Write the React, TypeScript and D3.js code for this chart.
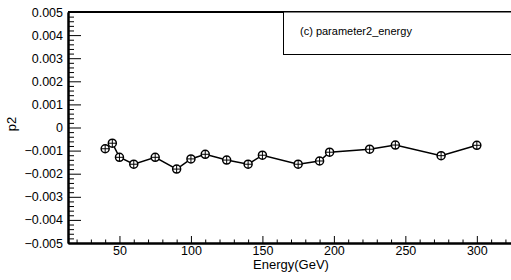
import * as d3 from 'd3';
import React from 'react';

// energy points (GeV) and fitted p2 values
const energy: number[] = [40, 45, 50, 60, 75, 90, 100, 110, 125, 140, 150, 175, 190, 197, 225, 243, 275, 300];
const p2: number[] = [
    -0.00092, -0.00068, -0.00129, -0.00159, -0.00129, -0.0018, -0.00136, -0.00116, -0.00141, -0.00159, -0.0012,
    -0.00159, -0.00145, -0.00107, -0.00094, -0.00076, -0.00122, -0.00077,
];
const xMajor: number[] = [50, 100, 150, 200, 250, 300];
const yMajor: number[] = [-0.005, -0.004, -0.003, -0.002, -0.001, 0, 0.001, 0.002, 0.003, 0.004, 0.005];
const legendText = '(c) parameter2_energy';

const App = (): React.ReactElement => {
    const width = 511;
    const height = 280;
    const left = 68;
    const right = 514;
    const top = 12;
    const bottom = 243;

    const chartRef = React.useRef<SVGSVGElement>(null);

    React.useEffect(() => {
        const font = 'Liberation Sans, Arial, Helvetica, sans-serif';
        const xScale = d3.scaleLinear().domain([14, 326]).range([left, right]);
        const yScale = d3.scaleLinear().domain([-0.005, 0.005]).range([bottom, top]);

        const svg = d3.select(chartRef.current).attr('width', width).attr('height', height);
        svg.selectAll('*').remove();

        svg.append('rect').attr('width', width).attr('height', height).attr('fill', '#fff');

        // top edge of the frame (right edge falls outside the canvas)
        svg.append('line')
            .attr('x1', left)
            .attr('x2', right)
            .attr('y1', top)
            .attr('y2', top)
            .attr('stroke', '#000')
            .attr('stroke-width', 2);

        // x axis: minor ticks then major ticks with labels
        const xMinor = d3.range(20, 330, 10).filter((v) => v % 50 !== 0);
        svg.append('g')
            .attr('transform', 'translate(0,' + bottom + ')')
            .call(d3.axisBottom(xScale).tickValues(xMinor).tickSize(-3.5).tickSizeOuter(0).tickFormat(() => ''));
        svg.append('g')
            .attr('transform', 'translate(0,' + bottom + ')')
            .call(
                d3
                    .axisBottom(xScale)
                    .tickValues(xMajor)
                    .tickSize(-7)
                    .tickSizeOuter(0)
                    .tickPadding(3)
                    .tickFormat(d3.format('d')),
            );

        // y axis
        const yMinor = d3.range(-25, 26).filter((i) => i % 5 !== 0).map((i) => i * 0.0002);
        svg.append('g')
            .attr('transform', 'translate(' + left + ',0)')
            .call(d3.axisLeft(yScale).tickValues(yMinor).tickSize(-6).tickSizeOuter(0).tickFormat(() => ''));
        svg.append('g')
            .attr('transform', 'translate(' + left + ',0)')
            .call(
                d3
                    .axisLeft(yScale)
                    .tickValues(yMajor)
                    .tickSize(-13)
                    .tickSizeOuter(0)
                    .tickPadding(5)
                    .tickFormat((v) => (Math.abs(+v) < 1e-9 ? '0' : d3.format('.3f')(+v))),
            );

        svg.selectAll('.domain').attr('stroke-width', 2);
        svg.selectAll('.tick line').attr('stroke-width', 1);
        svg.selectAll('.tick text').attr('font-family', font).attr('font-size', 12.5).attr('fill', '#000');

        // axis titles
        svg.append('text')
            .attr('x', (left + right) / 2)
            .attr('y', 269)
            .attr('text-anchor', 'middle')
            .attr('font-family', font)
            .attr('font-size', 13)
            .text('Energy(GeV)');
        svg.append('text')
            .attr('transform', 'translate(16,124) rotate(-90)')
            .attr('text-anchor', 'middle')
            .attr('font-family', font)
            .attr('font-size', 13)
            .text('p2');

        // legend box
        svg.append('rect')
            .attr('x', 283.5)
            .attr('y', top)
            .attr('width', 240)
            .attr('height', 54.5 - top)
            .attr('fill', '#fff')
            .attr('stroke', '#000')
            .attr('stroke-width', 1);
        svg.append('text')
            .attr('x', 300)
            .attr('y', 35)
            .attr('font-family', font)
            .attr('font-size', 11)
            .text(legendText);

        // graph line
        const points = energy.map((e, i) => [e, p2[i]] as [number, number]);
        const line = d3
            .line<[number, number]>()
            .x((d) => xScale(d[0]))
            .y((d) => yScale(d[1]));
        svg.append('path')
            .datum(points)
            .attr('d', line)
            .attr('fill', 'none')
            .attr('stroke', '#000')
            .attr('stroke-width', 1.5);

        // markers: open circle with cross
        const r = 4;
        const marks = svg
            .append('g')
            .selectAll('g')
            .data(points)
            .enter()
            .append('g')
            .attr('transform', (d) => 'translate(' + xScale(d[0]) + ',' + yScale(d[1]) + ')');
        marks.append('circle').attr('r', r).attr('fill', '#fff').attr('stroke', '#000').attr('stroke-width', 1.5);
        marks.append('path')
            .attr('d', 'M' + -r + ',0H' + r + 'M0,' + -r + 'V' + r)
            .attr('stroke', '#000')
            .attr('stroke-width', 1);
    }, []);

    return (
        <div style={{ position: 'absolute', left: 0, top: 0 }}>
            <svg ref={chartRef} style={{ display: 'block' }}></svg>
        </div>
    );
};

export default App;
